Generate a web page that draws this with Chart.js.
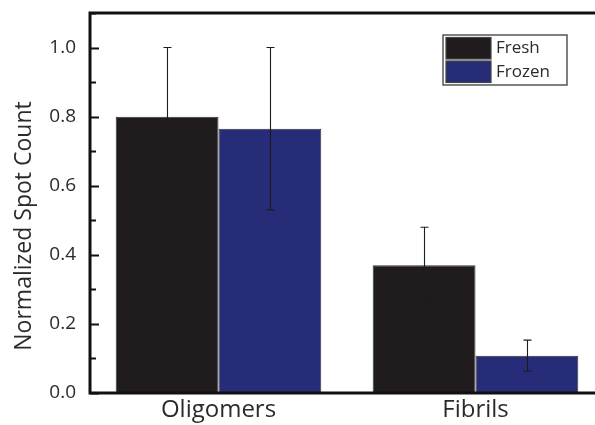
<!DOCTYPE html>
<html>
<head>
<meta charset="utf-8">
<script src="https://cdn.jsdelivr.net/npm/chart.js@4/dist/chart.umd.min.js"></script>
<style>
  html, body { margin: 0; padding: 0; background: #fff; overflow: hidden; }
  #wrap { width: 595px; height: 425px; overflow: hidden; position: relative; }
  canvas { display: block; }
</style>
</head>
<body>
<div id="wrap"><canvas id="c" width="610" height="425"></canvas></div>
<script>
// Sample categories and normalized counts
const categories = ['Oligomers', 'Fibrils'];
const freshValues = [0.80, 0.37];
const freshErrors = [0.20, 0.11];
const frozenValues = [0.765, 0.108];
const frozenErrors = [0.235, 0.045];
const yTickValues = [0.0, 0.2, 0.4, 0.6, 0.8, 1.0];

const FONT = '"Open Sans", "Noto Sans", sans-serif';
const TEXT = '#2b2b2b';

// Symmetric error bars drawn on top of each bar
const errorBars = {
  id: 'errorBars',
  afterDatasetsDraw(chart) {
    const ctx = chart.ctx;
    const y = chart.scales.y;
    ctx.save();
    ctx.strokeStyle = '#1e1b1c';
    ctx.lineWidth = 1.1;
    chart.data.datasets.forEach((ds, i) => {
      const meta = chart.getDatasetMeta(i);
      meta.data.forEach((bar, j) => {
        const v = ds.data[j], e = ds.errors[j];
        const top = y.getPixelForValue(v + e);
        const bot = y.getPixelForValue(v - e);
        const x = Math.round(bar.x) + 0.5;
        ctx.beginPath();
        ctx.moveTo(x, top); ctx.lineTo(x, bot);
        ctx.moveTo(x - 4, top); ctx.lineTo(x + 4, top);
        ctx.moveTo(x - 4, bot); ctx.lineTo(x + 4, bot);
        ctx.stroke();
      });
    });
    ctx.restore();
  }
};

// Frame, inward ticks, boxed legend and y-axis title
const frame = {
  id: 'frame',
  afterDraw(chart) {
    const ctx = chart.ctx;
    const a = chart.chartArea;
    const y = chart.scales.y;
    ctx.save();
    ctx.strokeStyle = '#111';
    ctx.lineWidth = 3;
    ctx.strokeRect(a.left, a.top, a.right - a.left, a.bottom - a.top);

    ctx.lineWidth = 2;
    for (let k = 0; k <= 11; k++) {
      const v = k / 10;
      const py = Math.round(y.getPixelForValue(v)) + 0.5;
      const len = (k % 2 === 0) ? 9 : 6;
      ctx.beginPath();
      ctx.moveTo(a.left, py); ctx.lineTo(a.left + len, py);
      ctx.moveTo(a.right, py); ctx.lineTo(a.right - len, py);
      ctx.stroke();
    }

    // legend box
    const lx = 443, ly = 35, lw = 124, lh = 50;
    ctx.lineWidth = 1.5;
    ctx.strokeStyle = '#555';
    ctx.strokeRect(lx, ly, lw, lh);
    chart.data.datasets.forEach((ds, i) => {
      const sy = ly + 2.5 + i * 23.5;
      ctx.fillStyle = ds.backgroundColor;
      ctx.fillRect(lx + 3, sy, 45, 21.5);
      ctx.lineWidth = 1.2;
      ctx.strokeStyle = '#444';
      ctx.strokeRect(lx + 3, sy, 45, 21.5);
      ctx.fillStyle = TEXT;
      ctx.font = '17px ' + FONT;
      ctx.textBaseline = 'middle';
      ctx.textAlign = 'left';
      ctx.fillText(ds.label, lx + 53, sy + 11);
    });

    // y-axis title
    ctx.translate(24, 226);
    ctx.rotate(-Math.PI / 2);
    ctx.fillStyle = TEXT;
    ctx.font = '23px ' + FONT;
    ctx.textAlign = 'center';
    ctx.textBaseline = 'middle';
    ctx.fillText('Normalized Spot Count', 0, 0);
    ctx.restore();
  }
};

new Chart(document.getElementById('c'), {
  type: 'bar',
  data: {
    labels: categories,
    datasets: [
      { label: 'Fresh', data: freshValues, errors: freshErrors,
        backgroundColor: '#201c1d', borderColor: '#333333', borderWidth: 1 },
      { label: 'Frozen', data: frozenValues, errors: frozenErrors,
        backgroundColor: '#272c79', borderColor: '#333333', borderWidth: 1 }
    ]
  },
  options: {
    responsive: false,
    animation: false,
    datasets: { bar: { barPercentage: 1.0, categoryPercentage: 0.8 } },
    layout: { padding: { top: 13, right: 6, left: 0, bottom: 0 } },
    plugins: { legend: { display: false }, tooltip: { enabled: false } },
    scales: {
      x: {
        grid: { display: false, drawTicks: false },
        border: { display: false },
        ticks: { color: TEXT, font: { family: FONT, size: 24 }, padding: 3 },
        afterFit(s) { s.height = 32; s.paddingLeft = 0; s.paddingRight = 0; }
      },
      y: {
        min: 0, max: 1.1,
        grid: { display: false, drawTicks: false },
        border: { display: false },
        afterBuildTicks(s) { s.ticks = yTickValues.map(v => ({ value: v })); },
        ticks: {
          color: TEXT, font: { family: FONT, size: 19 }, padding: 14,
          callback: v => Number(v).toFixed(1)
        },
        afterFit(s) { s.width = 90; s.paddingTop = 0; s.paddingBottom = 0; }
      }
    }
  },
  plugins: [errorBars, frame]
});
</script>
</body>
</html>
